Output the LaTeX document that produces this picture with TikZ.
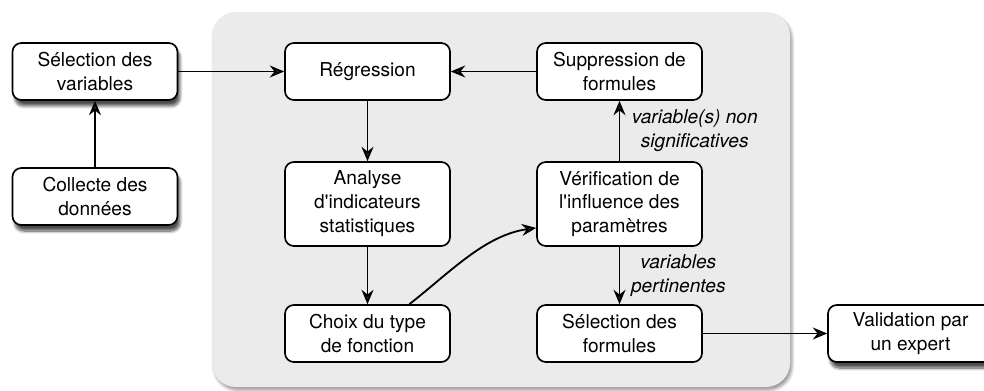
\documentclass[tikz,border=0pt]{standalone}
\usepackage{fontspec}
\setmainfont{TeX Gyre Heros}
\usepackage{tikz}
\usetikzlibrary{shapes,arrows,positioning,calc,arrows.meta,shadows.blur}

\begin{document}
\begin{tikzpicture}[
    etape/.style={rectangle, rounded corners=2.2mm, draw, line width=1.2pt, fill=white, minimum width=4.125cm, minimum height=1.425cm, align=center, font=\fontsize{13.6}{17}\selectfont, inner sep=2pt},
    haute/.style={minimum height=2.1cm},
    ombre/.style={blur shadow={shadow xshift=0.6mm, shadow yshift=-1.5mm, shadow blur steps=8, shadow opacity=70}},
    fleche/.style={-{Stealth[length=3.6mm,width=3mm,inset=1.2mm]}, line width=1.3pt},
    note/.style={font=\fontsize{13.6}{17}\itshape\selectfont, align=center, inner sep=1pt}]
    \useasboundingbox (0,0) rectangle (24.6,9.75);
    \clip (0,0) rectangle (24.6,9.75);
    \fill[black!8, rounded corners=6mm, blur shadow={shadow xshift=0.5mm, shadow yshift=-0.8mm, shadow opacity=40}] (5.3,0.075) rectangle (19.75,9.45);
    \node[etape, ombre] (selvar) at (2.375,7.9625) {Sélection des\\variables};
    \node[etape, ombre] (collecte) at (2.375,4.8375) {Collecte des\\données};
    \node[etape] (regression) at (9.1875,7.9625) {Régression};
    \node[etape] (suppression) at (15.4875,7.9625) {Suppression de\\formules};
    \node[etape, haute] (analyse) at (9.1875,4.65) {Analyse\\d\textquotesingle indicateurs\\statistiques};
    \node[etape, haute] (verif) at (15.4875,4.65) {Vérification de\\l\textquotesingle influence des\\paramètres};
    \node[etape] (choix) at (9.1875,1.4125) {Choix du type\\de fonction};
    \node[etape] (selform) at (15.4875,1.4125) {Sélection des\\formules};
    \node[etape, ombre] (validation) at (22.7625,1.4125) {Validation par\\un expert};
    \draw[fleche] (selvar.east) -- (regression.west);
    \draw[fleche] (collecte.north) -- (selvar.south);
    \draw[fleche] (suppression.west) -- (regression.east);
    \draw[fleche] (regression.south) -- (analyse.north);
    \draw[fleche] (analyse.south) -- (choix.north);
    \draw[fleche] (choix.35) to[out=38, in=188, looseness=0.9] (verif.196);
    \draw[fleche] (verif.north) -- (suppression.south) node[midway, anchor=west, xshift=2.5mm, note] {variable(s) non\\significatives};
    \draw[fleche] (verif.south) -- (selform.north) node[midway, anchor=west, xshift=2.3mm, note] {variables\\pertinentes};
    \draw[fleche] (selform.east) -- (validation.west);
\end{tikzpicture}
\end{document}
